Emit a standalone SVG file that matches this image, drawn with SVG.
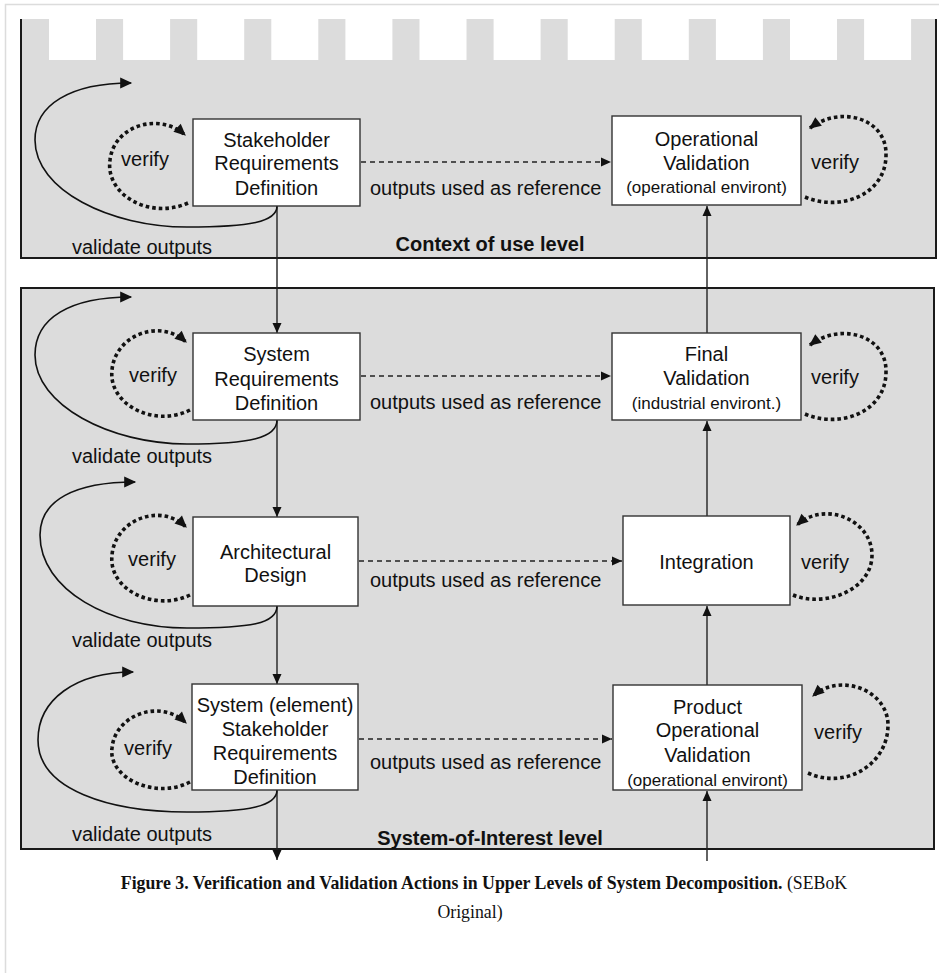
<svg xmlns="http://www.w3.org/2000/svg" width="939" height="973" viewBox="0 0 939 973">
<defs>
<style>
.panel{fill:#dcdcdc;stroke:#1a1a1a;stroke-width:2}
.box{fill:#fff;stroke:#333;stroke-width:1.4}
.t{font-family:"Liberation Sans",Arial,sans-serif;font-size:20px;fill:#111;text-anchor:middle}
.ts{font-family:"Liberation Sans",Arial,sans-serif;font-size:17px;fill:#111;text-anchor:middle}
.lbl{font-family:"Liberation Sans",Arial,sans-serif;font-size:20px;fill:#111}
.lvl{font-family:"Liberation Sans",Arial,sans-serif;font-size:20px;font-weight:bold;fill:#111;text-anchor:middle}
.cap{font-family:"Liberation Serif","Times New Roman",serif;font-size:17.8px;fill:#111}
.solid{fill:none;stroke:#111;stroke-width:1.6}
.line{fill:none;stroke:#222;stroke-width:1.4}
.dash{fill:none;stroke:#222;stroke-width:1.3;stroke-dasharray:5 4}
.dot{fill:none;stroke:#111;stroke-width:3.6;stroke-dasharray:3.6 3}
</style>
<marker id="ah" viewBox="0 0 10 10" refX="10" refY="5" markerWidth="11" markerHeight="10" markerUnits="userSpaceOnUse" orient="auto"><path d="M0,0.5 L10,5 L0,9.5 z" fill="#111"/></marker>
<marker id="ahb" viewBox="0 0 10 10" refX="9" refY="5" markerWidth="14" markerHeight="12" markerUnits="userSpaceOnUse" orient="auto"><path d="M0,0.5 L10,5 L0,9.5 z" fill="#111"/></marker>
</defs>
<rect width="939" height="973" fill="#fff"/>
<path d="M5.5,973 V4.5 H939" fill="none" stroke="#dcdcdc" stroke-width="1.5"/>

<g id="panel-context">
<rect x="21" y="19" width="915" height="239" fill="#dcdcdc"/>
<g fill="#fff">
<rect x="49" y="18" width="47" height="42"/>
<rect x="123.1" y="18" width="47" height="42"/>
<rect x="197.2" y="18" width="47" height="42"/>
<rect x="271.3" y="18" width="47" height="42"/>
<rect x="345.4" y="18" width="47" height="42"/>
<rect x="419.5" y="18" width="47" height="42"/>
<rect x="493.6" y="18" width="47" height="42"/>
<rect x="567.7" y="18" width="47" height="42"/>
<rect x="641.8" y="18" width="47" height="42"/>
<rect x="715.9" y="18" width="47" height="42"/>
<rect x="790" y="18" width="47" height="42"/>
<rect x="864.1" y="18" width="47" height="42"/>
</g>
<path d="M21,19 V258 H936 V19" fill="none" stroke="#1a1a1a" stroke-width="2"/>
<text class="lvl" x="490" y="251">Context of use level</text>
</g>

<g id="panel-soi">
<rect class="panel" x="21" y="288" width="913" height="561"/>
<text class="lvl" x="490" y="845">System-of-Interest level</text>
</g>

<g id="connectors">
<line class="line" x1="277" y1="206" x2="277" y2="333" marker-end="url(#ah)"/>
<line class="line" x1="277" y1="420" x2="277" y2="517" marker-end="url(#ah)"/>
<line class="line" x1="277" y1="606" x2="277" y2="684" marker-end="url(#ah)"/>
<line class="line" x1="277" y1="790" x2="277" y2="860" marker-end="url(#ah)"/>
<line class="line" x1="707" y1="861" x2="707" y2="791" marker-end="url(#ah)"/>
<line class="line" x1="707" y1="685" x2="707" y2="606" marker-end="url(#ah)"/>
<line class="line" x1="707" y1="516" x2="707" y2="421" marker-end="url(#ah)"/>
<line class="line" x1="707" y1="333" x2="707" y2="206" marker-end="url(#ah)"/>
<line class="dash" x1="361" y1="162" x2="611" y2="162" marker-end="url(#ah)"/>
<line class="dash" x1="361" y1="376" x2="611" y2="376" marker-end="url(#ah)"/>
<line class="dash" x1="359" y1="561" x2="622" y2="561" marker-end="url(#ah)"/>
<line class="dash" x1="359" y1="739" x2="612" y2="739" marker-end="url(#ah)"/>
<g class="lbl">
<text x="370" y="195">outputs used as reference</text>
<text x="370" y="409">outputs used as reference</text>
<text x="370" y="587">outputs used as reference</text>
<text x="370" y="769">outputs used as reference</text>
</g>
<path class="solid" d="M277,206 C277,222 250,227 187,227 C110,227 35,190 35,140 C35,105 70,83 131,83" marker-end="url(#ahb)"/>
<path class="solid" d="M277,420 C277,438 250,444 187,444 C110,444 35,405 35,355 C35,318 70,297 131,297" marker-end="url(#ahb)"/>
<path class="solid" d="M277,606 C277,624 250,628 187,628 C110,628 40,590 40,535 C40,500 75,482 135,482" marker-end="url(#ahb)"/>
<path class="solid" d="M277,790 C277,806 250,812 187,812 C110,812 38,790 38,740 C38,700 75,672 133,672" marker-end="url(#ahb)"/>
<g class="lbl">
<text x="72" y="254">validate outputs</text>
<text x="72" y="463">validate outputs</text>
<text x="72" y="647">validate outputs</text>
<text x="72" y="841">validate outputs</text>
</g>
<path class="dot" d="M188,203 C150,220 105,195 110,160 C114,125 160,112 185,135" marker-end="url(#ahb)"/>
<path class="dot" d="M190,410 C155,428 108,405 112,370 C115,335 160,318 186,342" marker-end="url(#ahb)"/>
<path class="dot" d="M190,595 C155,612 108,590 112,555 C115,520 160,502 186,527" marker-end="url(#ahb)"/>
<path class="dot" d="M190,782 C155,800 108,778 112,748 C115,715 160,698 186,723" marker-end="url(#ahb)"/>
<path class="dot" d="M805,197 C840,212 886,195 886,155 C887,118 840,105 810,128" marker-end="url(#ahb)"/>
<path class="dot" d="M805,414 C840,429 886,412 886,372 C887,335 840,322 810,345" marker-end="url(#ahb)"/>
<path class="dot" d="M793,595 C825,608 872,590 872,555 C872,520 825,500 797,525" marker-end="url(#ahb)"/>
<path class="dot" d="M808,773 C845,790 888,765 888,725 C888,690 840,672 813,696" marker-end="url(#ahb)"/>
<g class="lbl" text-anchor="middle">
<text x="145" y="166">verify</text>
<text x="153" y="382">verify</text>
<text x="152" y="566">verify</text>
<text x="148" y="755">verify</text>
<text x="835" y="169">verify</text>
<text x="835" y="384">verify</text>
<text x="825" y="569">verify</text>
<text x="838" y="739">verify</text>
</g>
</g>

<g id="node-stakeholder-req">
<rect class="box" x="193" y="119" width="167" height="87"/>
<text class="t" x="276.5" y="147">Stakeholder</text>
<text class="t" x="276.5" y="170">Requirements</text>
<text class="t" x="276.5" y="195">Definition</text>
</g>
<g id="node-system-req">
<rect class="box" x="193" y="333" width="167" height="87"/>
<text class="t" x="276.5" y="361">System</text>
<text class="t" x="276.5" y="386">Requirements</text>
<text class="t" x="276.5" y="410">Definition</text>
</g>
<g id="node-architectural-design">
<rect class="box" x="193" y="517" width="165" height="89"/>
<text class="t" x="275.5" y="559">Architectural</text>
<text class="t" x="275.5" y="582">Design</text>
</g>
<g id="node-element-stakeholder-req">
<rect class="box" x="192" y="684" width="166" height="106"/>
<text class="t" x="275" y="712">System (element)</text>
<text class="t" x="275" y="736">Stakeholder</text>
<text class="t" x="275" y="760">Requirements</text>
<text class="t" x="275" y="784">Definition</text>
</g>
<g id="node-operational-validation">
<rect class="box" x="612" y="116" width="189" height="89"/>
<text class="t" x="706.5" y="146">Operational</text>
<text class="t" x="706.5" y="170">Validation</text>
<text class="ts" x="706.5" y="193">(operational environt)</text>
</g>
<g id="node-final-validation">
<rect class="box" x="612" y="333" width="189" height="87"/>
<text class="t" x="706.5" y="361">Final</text>
<text class="t" x="706.5" y="385">Validation</text>
<text class="ts" x="706.5" y="409">(industrial environt.)</text>
</g>
<g id="node-integration">
<rect class="box" x="623" y="516" width="167" height="89"/>
<text class="t" x="706.5" y="569">Integration</text>
</g>
<g id="node-product-validation">
<rect class="box" x="613" y="685" width="189" height="105"/>
<text class="t" x="707.5" y="714">Product</text>
<text class="t" x="707.5" y="737">Operational</text>
<text class="t" x="707.5" y="762">Validation</text>
<text class="ts" x="707.5" y="786">(operational environt)</text>
</g>

<g id="caption">
<text class="cap" x="484" y="889" text-anchor="middle"><tspan font-weight="bold">Figure 3. Verification and Validation Actions in Upper Levels of System Decomposition.</tspan> (SEBoK</text>
<text class="cap" x="470" y="918" text-anchor="middle">Original)</text>
</g>
</svg>
